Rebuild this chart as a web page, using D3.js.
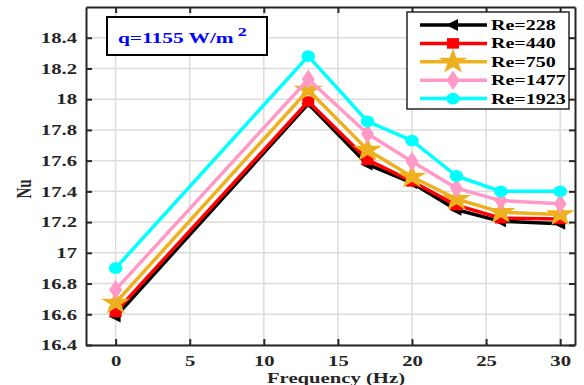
<!DOCTYPE html>
<html>
<head>
<meta charset="utf-8">
<script src="https://cdn.jsdelivr.net/npm/d3@7"></script>
<style>
  html, body { margin: 0; padding: 0; background: #fff; }
  text { font-family: "Liberation Serif", "Times New Roman", serif; font-weight: bold; }
</style>
</head>
<body>
<svg id="chart" width="584" height="385"></svg>
<script>
// data
const frequency = [0, 13, 17, 20, 23, 26, 30]
const re228  = [16.585, 17.97, 17.575, 17.455, 17.28, 17.205, 17.19]
const re440  = [16.615, 17.985, 17.605, 17.465, 17.31, 17.225, 17.22]
const re750  = [16.675, 18.06, 17.67, 17.495, 17.35, 17.265, 17.25]
const re1477 = [16.76, 18.13, 17.775, 17.595, 17.42, 17.34, 17.32]
const re1923 = [16.90, 18.28, 17.855, 17.73, 17.50, 17.40, 17.40]
const seriesNames = ["Re=228", "Re=440", "Re=750", "Re=1477", "Re=1923"]
const xTicks = [0, 5, 10, 15, 20, 25, 30]
const yTicks = [16.4, 16.6, 16.8, 17, 17.2, 17.4, 17.6, 17.8, 18, 18.2, 18.4]

const series = [
  { name: seriesNames[0], values: re228,  color: "#000000", marker: "triangle" },
  { name: seriesNames[1], values: re440,  color: "#ff0000", marker: "square" },
  { name: seriesNames[2], values: re750,  color: "#edb120", marker: "star" },
  { name: seriesNames[3], values: re1477, color: "#ff9ac6", marker: "diamond" },
  { name: seriesNames[4], values: re1923, color: "#00ffff", marker: "circle" }
]

// the original figure is stretched sideways, so text gets a horizontal scale
const STRETCH = 1.38

const svg = d3.select("#chart")
const margin = { left: 86, right: 9, top: 7, bottom: 40 }
const W = 584, H = 385

const x = d3.scaleLinear().domain([-2, 31]).range([margin.left, W - margin.right])
const y = d3.scaleLinear().domain([16.4, 18.6]).range([H - margin.bottom, margin.top])

function stretchText(sel) {
  sel.each(function () {
    const t = d3.select(this)
    const tx = +(t.attr("x") || 0)
    t.attr("x", tx / STRETCH).attr("transform", `scale(${STRETCH},1)`)
  })
}

// grid
svg.append("g").selectAll("line").data(xTicks).enter().append("line")
  .attr("x1", d => x(d)).attr("x2", d => x(d))
  .attr("y1", y.range()[0]).attr("y2", y.range()[1])
  .attr("stroke", "#dcdcdc").attr("stroke-width", 1.5)
svg.append("g").selectAll("line").data(yTicks).enter().append("line")
  .attr("y1", d => y(d)).attr("y2", d => y(d))
  .attr("x1", x.range()[0]).attr("x2", x.range()[1])
  .attr("stroke", "#dcdcdc").attr("stroke-width", 1.5)

// axes with inward ticks on all four sides
function styleAxis(g) {
  g.select(".domain").attr("stroke", "#262626").attr("stroke-width", 2)
  g.selectAll(".tick line").attr("stroke", "#262626").attr("stroke-width", 2)
  g.selectAll("text").attr("fill", "#262626").style("font-size", "15px")
    .style("font-family", "'Liberation Serif', serif").style("font-weight", "bold")
    .call(stretchText)
}

svg.append("g").attr("transform", `translate(0,${y.range()[0]})`)
  .call(d3.axisBottom(x).tickValues(xTicks).tickSizeInner(-6).tickSizeOuter(0).tickPadding(10))
  .call(styleAxis)
svg.append("g").attr("transform", `translate(0,${y.range()[1]})`)
  .call(d3.axisTop(x).tickValues(xTicks).tickSizeInner(-6).tickSizeOuter(0).tickFormat(""))
  .call(styleAxis)
svg.append("g").attr("transform", `translate(${x.range()[0]},0)`)
  .call(d3.axisLeft(y).tickValues(yTicks).tickSizeInner(-6).tickSizeOuter(0).tickPadding(9).tickFormat(d3.format("")))
  .call(styleAxis)
svg.append("g").attr("transform", `translate(${x.range()[1]},0)`)
  .call(d3.axisRight(y).tickValues(yTicks).tickSizeInner(-6).tickSizeOuter(0).tickFormat(""))
  .call(styleAxis)

// axis labels
svg.append("text")
  .attr("x", 336).attr("y", 383)
  .attr("text-anchor", "middle").attr("fill", "#262626").style("font-size", "15px")
  .text("Frequency (Hz)")
  .call(stretchText)
svg.append("text")
  .attr("transform", `translate(31,189) rotate(-90) scale(1,${STRETCH})`)
  .attr("text-anchor", "middle").attr("fill", "#262626").style("font-size", "15px")
  .text("Nu")

// markers
const symbolFor = {
  square: d3.symbolSquare,
  star: d3.symbolStar,
  diamond: d3.symbolDiamond,
  circle: d3.symbolCircle
}
function drawMarker(g, s, cx, cy) {
  if (s.marker === "triangle") {
    g.append("path")
      .attr("d", "M-7,0 L5,-6 L5,6 Z")
      .attr("transform", `translate(${cx},${cy})`)
      .attr("fill", s.color)
  } else {
    const size = { square: 110, star: 200, diamond: 110, circle: 110 }[s.marker]
    g.append("path")
      .attr("d", d3.symbol().type(symbolFor[s.marker]).size(size)())
      .attr("transform", `translate(${cx},${cy}) scale(1.15,1)`)
      .attr("fill", s.color)
  }
}

const line = d3.line().x(d => x(d[0])).y(d => y(d[1]))
series.forEach(s => {
  const pts = frequency.map((f, i) => [f, s.values[i]])
  const g = svg.append("g")
  g.append("path").datum(pts).attr("d", line)
    .attr("fill", "none").attr("stroke", s.color).attr("stroke-width", 3.5)
    .attr("stroke-linejoin", "round")
  pts.forEach(p => drawMarker(g, s, x(p[0]), y(p[1])))
})

// annotation box
svg.append("rect").attr("x", 107).attr("y", 17).attr("width", 160).attr("height", 38)
  .attr("fill", "#fff").attr("stroke", "#000").attr("stroke-width", 2)
const q = svg.append("text").attr("x", 118).attr("y", 43)
  .attr("fill", "#0000ff").style("font-size", "15.5px")
q.append("tspan").text("q=1155 W/m")
q.append("tspan").attr("dx", 3).attr("dy", -7).style("font-size", "13px").text("2")
q.call(stretchText)

// legend
const legend = svg.append("g")
legend.append("rect").attr("x", 407).attr("y", 12).attr("width", 162).attr("height", 97)
  .attr("fill", "#fff").attr("stroke", "#262626").attr("stroke-width", 1.5)
series.forEach((s, i) => {
  const ly = 25 + i * 18.4
  legend.append("line").attr("x1", 420).attr("x2", 487).attr("y1", ly).attr("y2", ly)
    .attr("stroke", s.color).attr("stroke-width", 3.5)
  drawMarker(legend, s, 453, ly)
  legend.append("text").attr("x", 491).attr("y", ly + 5)
    .attr("fill", "#000").style("font-size", "14.5px").text(s.name)
    .call(stretchText)
})
</script>
</body>
</html>
